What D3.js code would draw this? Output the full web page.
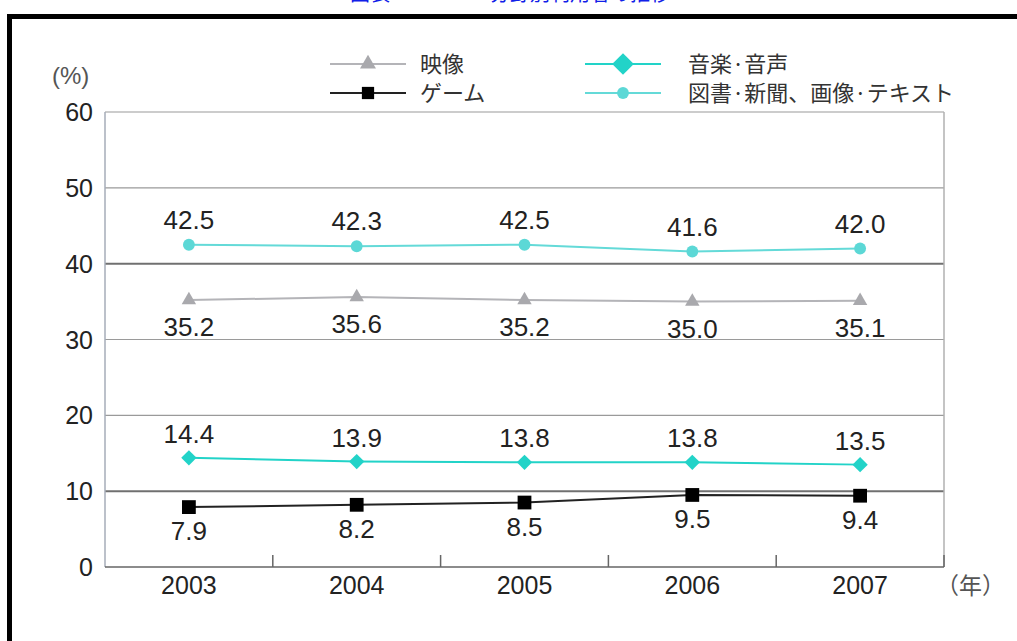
<!DOCTYPE html>
<html>
  <head>
    <meta charset="utf-8">
    <script src="https://d3js.org/d3.v7.min.js"></script>
    <style>
      body { margin: 0; background: #fff; }
      text { font-family: "Liberation Sans", Arial, "Noto Sans CJK JP", sans-serif; fill: #222; }
      .jp { font-family: "Noto Sans CJK JP", sans-serif; }
      .tick-label { font-size: 25px; }
      .value-label { font-size: 26px; }
      .legend text { font-size: 22px; fill: #333; }
    </style>
  </head>
  <body>
    <svg width="1017" height="641"></svg>
    <script>
      const years = ["2003", "2004", "2005", "2006", "2007"];
      const yTicks = [0, 10, 20, 30, 40, 50, 60];
      const videoValues = [35.2, 35.6, 35.2, 35.0, 35.1];
      const gameValues = [7.9, 8.2, 8.5, 9.5, 9.4];
      const musicValues = [14.4, 13.9, 13.8, 13.8, 13.5];
      const bookValues = [42.5, 42.3, 42.5, 41.6, 42.0];

      const series = [
        { name: "映像", values: videoValues, color: "#b4b4b8", markColor: "#a9a9ad", shape: d3.symbolTriangle, size: 90, legendSize: 110, labelDy: 36, legendRow: 0, legendCol: 0 },
        { name: "ゲーム", values: gameValues, color: "#222", markColor: "#000", shape: d3.symbolSquare, size: 190, legendSize: 150, labelDy: 33, legendRow: 1, legendCol: 0 },
        { name: "音楽·音声", values: musicValues, color: "#22d3c8", markColor: "#22d3c8", shape: d3.symbolDiamond2, size: 150, legendSize: 300, labelDy: -15, legendRow: 0, legendCol: 1 },
        { name: "図書·新聞、画像·テキスト", values: bookValues, color: "#64dad8", markColor: "#5cd8d6", shape: d3.symbolCircle, size: 110, legendSize: 110, labelDy: -16, legendRow: 1, legendCol: 1 }
      ];

      const svg = d3.select("svg");
      const plotLeft = 105, plotRight = 944, plotTop = 112, plotBottom = 567;

      // frame and cut-off title
      svg.append("text")
        .attr("x", 350).attr("y", 1)
        .attr("class", "jp")
        .style("font-size", "20px").style("fill", "#1020e8")
        .text("図表　　　　　分野別利用者の推移");
      svg.append("rect").attr("x", 7).attr("y", 14).attr("width", 1017).attr("height", 5).attr("fill", "#000");
      svg.append("rect").attr("x", 7).attr("y", 14).attr("width", 5).attr("height", 641).attr("fill", "#000");

      const x = d3.scaleBand().domain(years).range([plotLeft, plotRight]);
      const y = d3.scaleLinear().domain([0, 60]).range([plotBottom, plotTop]);

      // gridlines
      svg.append("g")
        .selectAll("line")
        .data(yTicks.filter(d => d > 0))
        .join("line")
          .attr("x1", plotLeft).attr("x2", plotRight)
          .attr("y1", d => y(d)).attr("y2", d => y(d))
          .attr("stroke", d => (d === 40 || d === 10) ? "#707070" : "#9a9a9a")
          .attr("stroke-width", d => (d === 40 || d === 10) ? 2 : 1.2);

      // plot borders
      svg.append("line").attr("x1", plotLeft).attr("x2", plotLeft).attr("y1", plotTop).attr("y2", plotBottom)
        .attr("stroke", "#a6adb8").attr("stroke-width", 1.5);
      svg.append("line").attr("x1", plotRight).attr("x2", plotRight).attr("y1", plotTop).attr("y2", plotBottom)
        .attr("stroke", "#b0b0b0").attr("stroke-width", 1.5);

      // x axis with inner ticks at band boundaries
      svg.append("line").attr("x1", plotLeft).attr("x2", plotRight).attr("y1", plotBottom).attr("y2", plotBottom)
        .attr("stroke", "#666").attr("stroke-width", 1.5);
      svg.append("g")
        .selectAll("line")
        .data(years)
        .join("line")
          .attr("x1", d => x(d) + x.bandwidth()).attr("x2", d => x(d) + x.bandwidth())
          .attr("y1", plotBottom).attr("y2", plotBottom - 12)
          .attr("stroke", "#666").attr("stroke-width", 1.5);

      svg.append("g")
        .selectAll("text")
        .data(years)
        .join("text")
          .attr("class", "tick-label")
          .attr("x", d => x(d) + x.bandwidth() / 2)
          .attr("y", plotBottom + 27)
          .attr("text-anchor", "middle")
          .text(d => d);

      svg.append("g")
        .selectAll("text")
        .data(yTicks)
        .join("text")
          .attr("class", "tick-label")
          .attr("x", 93)
          .attr("y", d => y(d) + 9)
          .attr("text-anchor", "end")
          .text(d => d);

      svg.append("text").attr("x", 52).attr("y", 84)
        .style("font-size", "24px").style("fill", "#555").text("(%)");
      svg.append("text").attr("x", 936).attr("y", 594).attr("class", "jp")
        .style("font-size", "23px").style("fill", "#555").text("（年）");

      // lines, markers, labels
      const line = d3.line()
        .x((d, i) => x(years[i]) + x.bandwidth() / 2)
        .y(d => y(d));

      series.forEach(s => {
        const g = svg.append("g");
        g.append("path")
          .attr("d", line(s.values))
          .attr("fill", "none")
          .attr("stroke", s.color)
          .attr("stroke-width", 2);
        g.selectAll("path.mark")
          .data(s.values)
          .join("path")
            .attr("class", "mark")
            .attr("transform", (d, i) => `translate(${x(years[i]) + x.bandwidth() / 2},${y(d)})`)
            .attr("d", d3.symbol().type(s.shape).size(s.size))
            .attr("fill", s.markColor);
        g.selectAll("text")
          .data(s.values)
          .join("text")
            .attr("class", "value-label")
            .attr("x", (d, i) => x(years[i]) + x.bandwidth() / 2)
            .attr("y", d => y(d) + s.labelDy)
            .attr("text-anchor", "middle")
            .text(d => d.toFixed(1));
      });

      // legend
      const legend = svg.append("g").attr("class", "legend");
      const items = legend.selectAll("g")
        .data(series)
        .join("g")
          .attr("transform", d => `translate(${d.legendCol ? 585 : 330},${d.legendRow ? 93 : 64})`);
      items.append("line")
        .attr("x1", 0).attr("x2", 76)
        .attr("stroke", d => d.color).attr("stroke-width", 2);
      items.append("path")
        .attr("transform", "translate(38,0)")
        .attr("d", d => d3.symbol().type(d.shape).size(d.legendSize)())
        .attr("fill", d => d.markColor);
      items.append("text")
        .attr("class", "jp")
        .attr("x", d => d.legendCol ? 103 : 90)
        .attr("y", 8)
        .text(d => d.name);
    </script>
  </body>
</html>
